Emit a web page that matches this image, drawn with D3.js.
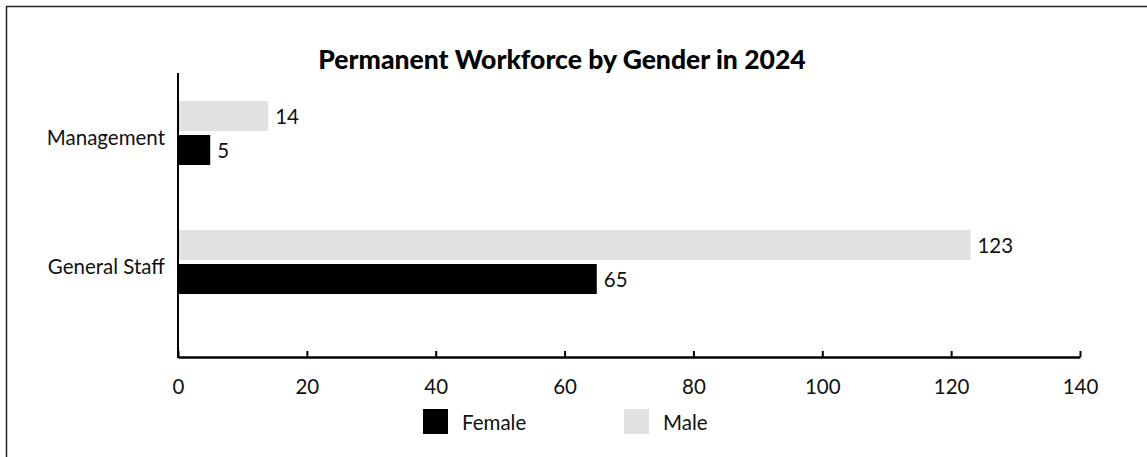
<!DOCTYPE html>
<html>
<head>
<meta charset="utf-8">
<script src="https://cdn.jsdelivr.net/npm/d3@7"></script>
<style>
  html, body { margin: 0; padding: 0; background: #fff; }
  svg { display: block; }
  text { font-family: Lato, "Noto Sans", sans-serif; fill: #111; }
</style>
</head>
<body>
<svg id="chart" width="1147" height="457"></svg>
<script>
// Workforce headcount by role and gender
const categories = ["Management", "General Staff"];
const seriesNames = ["Male", "Female"];
const maleValues = [14, 123];
const femaleValues = [5, 65];
const xTickValues = [0, 20, 40, 60, 80, 100, 120, 140];
const legendLabels = ["Female", "Male"];
const titleText = "Permanent Workforce by Gender in 2024";

const colors = { Female: "#000000", Male: "#e0e1e3" };
const labelSize = "20.5px";

const svg = d3.select("#chart");
const W = 1147, H = 457;

// outer frame (top and left edges visible)
svg.append("line").attr("x1", 6).attr("x2", W).attr("y1", 6.5).attr("y2", 6.5)
  .attr("stroke", "#222").attr("stroke-width", 1.5);
svg.append("line").attr("x1", 6.5).attr("x2", 6.5).attr("y1", 6).attr("y2", H)
  .attr("stroke", "#222").attr("stroke-width", 1.5);

const x = d3.scaleLinear().domain([0, 140]).range([178, 1080]);
const y = d3.scaleBand().domain(categories).range([68.5, 326.5]).padding(0);
const inner = d3.scaleBand().domain(seriesNames).range([-32, 32]).paddingInner(4 / 34);

const rows = categories.map((c, i) => ({
  category: c,
  values: [
    { series: "Male", value: maleValues[i] },
    { series: "Female", value: femaleValues[i] }
  ]
}));

// title
svg.append("text")
  .attr("x", 562).attr("y", 69)
  .attr("text-anchor", "middle")
  .style("font-size", "26.5px").style("font-weight", 900)
  .style("fill", "#000")
  .text(titleText);

// bars
const groups = svg.append("g").selectAll("g").data(rows).join("g")
  .attr("transform", d => `translate(0,${y(d.category) + y.bandwidth() / 2})`);

groups.selectAll("rect").data(d => d.values).join("rect")
  .attr("x", x(0))
  .attr("y", d => inner(d.series))
  .attr("width", d => x(d.value) - x(0))
  .attr("height", inner.bandwidth())
  .attr("fill", d => colors[d.series]);

groups.selectAll("text.val").data(d => d.values).join("text")
  .attr("class", "val")
  .attr("x", d => x(d.value) + 7)
  .attr("y", d => inner(d.series) + inner.bandwidth() / 2 + 8)
  .style("font-size", labelSize)
  .text(d => d.value);

// category labels
svg.append("g").selectAll("text").data(categories).join("text")
  .attr("x", 165)
  .attr("y", d => y(d) + y.bandwidth() / 2 + 12)
  .attr("text-anchor", "end")
  .style("font-size", labelSize)
  .text(d => d);

// y axis line
svg.append("line")
  .attr("x1", x(0)).attr("x2", x(0))
  .attr("y1", 73).attr("y2", 358)
  .attr("stroke", "#000").attr("stroke-width", 2);

// x axis
const xAxis = svg.append("g")
  .attr("transform", "translate(0,357)")
  .call(d3.axisBottom(x).tickValues(xTickValues).tickSizeInner(-6).tickSizeOuter(0).tickPadding(22));
xAxis.select(".domain").attr("stroke", "#000").attr("stroke-width", 2.5);
xAxis.selectAll(".tick line").attr("stroke", "#000").attr("stroke-width", 2);
xAxis.selectAll(".tick text")
  .style("font-family", "Lato, 'Noto Sans', sans-serif")
  .style("font-size", labelSize).style("fill", "#111");

// legend
const legendX = [423, 624];
const legend = svg.append("g").selectAll("g").data(legendLabels).join("g")
  .attr("transform", (d, i) => `translate(${legendX[i]},409)`);
legend.append("rect").attr("width", 25).attr("height", 25).attr("fill", d => colors[d]);
legend.append("text").attr("x", 39).attr("y", 21)
  .style("font-size", labelSize).text(d => d);
</script>
</body>
</html>
